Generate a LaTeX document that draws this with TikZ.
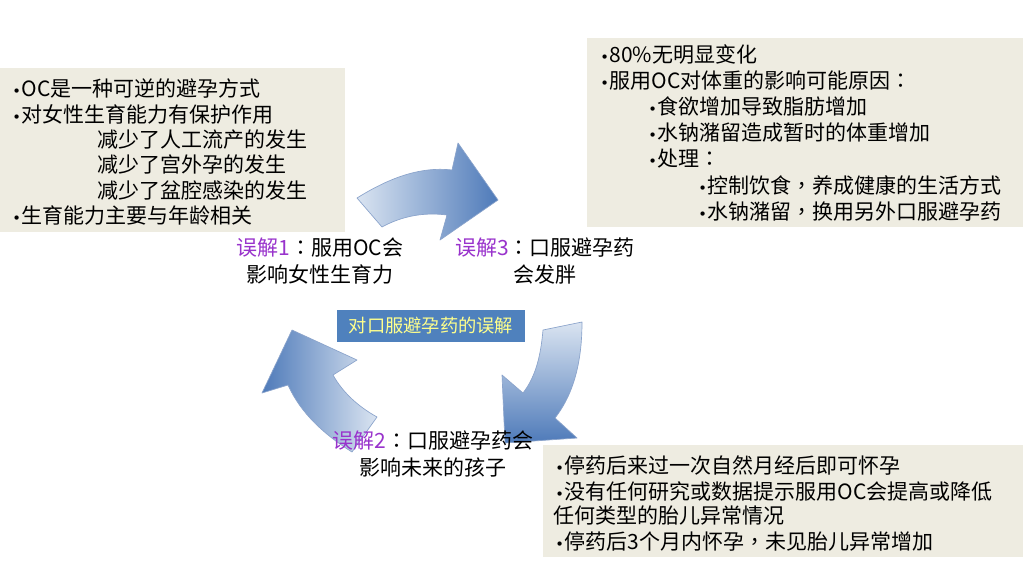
\documentclass[tikz,border=0pt]{standalone}
\usepackage{fontspec}
\setmainfont{Noto Sans CJK SC}
\newfontfamily\bulfont{DejaVu Sans}
\newfontfamily\tcfont{Noto Sans CJK TC}
\definecolor{boxbg}{HTML}{EEECE1}
\definecolor{misc}{HTML}{9933CC}
\definecolor{titlebg}{HTML}{4F81BD}
\definecolor{titletext}{HTML}{FFFF8C}
\definecolor{arlight}{HTML}{DAE4F1}
\definecolor{ardark}{HTML}{4E7AB9}
\definecolor{arline}{HTML}{8AA3CB}
\newcommand\mybul{\makebox[7pt][l]{\bulfont\fontsize{11}{11}\selectfont •}}
\newcommand\cm{{\tcfont ，}}
\newcommand\cl{{\tcfont ：}}
\tikzset{
  txt/.style={anchor=base west, inner sep=0pt, font=\fontsize{15.75}{19}\selectfont},
  lbl/.style={align=center, inner sep=0pt, font=\fontsize{15.75}{20.25}\selectfont},
  infobox/.style={fill=boxbg, draw=none},
  cyclearrow/.style={draw=arline, line width=0.5pt, line join=round},
}
\begin{document}
\begin{tikzpicture}[x=0.75pt, y=-0.75pt]
\useasboundingbox (0,0) rectangle (1023,575);
\fill[white] (0,0) rectangle (1023,575);

% info boxes
\fill[infobox] (0,68) rectangle (345,232);
\fill[infobox] (587,38) rectangle (1023,227);
\fill[infobox] (543,445) rectangle (1023,557);

% left box text
\node[txt] (l1) at (12,96.5) {\mybul OC是一种可逆的避孕方式};
\node[txt] (l2) at (12,122) {\mybul 对女性生育能力有保护作用};
\node[txt] (l3) at (97,147.5) {减少了人工流产的发生};
\node[txt] (l4) at (97,172.5) {减少了宫外孕的发生};
\node[txt] (l5) at (97,198) {减少了盆腔感染的发生};
\node[txt] (l6) at (12,223) {\mybul 生育能力主要与年龄相关};

% top-right box text
\node[txt] (t1) at (600,62.5) {\mybul 80\%无明显变化};
\node[txt] (t2) at (600,88.6) {\mybul 服用OC对体重的影响可能原因\cl};
\node[txt] (t3) at (648,114.7) {\mybul 食欲增加导致脂肪增加};
\node[txt] (t4) at (648,140.8) {\mybul 水钠潴留造成暂时的体重增加};
\node[txt] (t5) at (648,166.9) {\mybul 处理\cl};
\node[txt] (t6) at (698,193) {\mybul 控制饮食\cm 养成健康的生活方式};
\node[txt] (t7) at (698,219.1) {\mybul 水钠潴留\cm 换用另外口服避孕药};

% bottom-right box text
\node[txt] (b1) at (555,473) {\mybul 停药后来过一次自然月经后即可怀孕};
\node[txt] (b2) at (555,499) {\mybul 没有任何研究或数据提示服用OC会提高或降低};
\node[txt] (b3) at (553,523) {任何类型的胎儿异常情况};
\node[txt] (b4) at (555,549) {\mybul 停药后3个月内怀孕\cm 未见胎儿异常增加};

% cycle arrows
\path[cyclearrow, left color=arlight, right color=ardark]
  (357,198) .. controls (386,180) and (418,166) .. (452,170)
  -- (458,143) -- (498,200) -- (440,240) -- (447,215)
  .. controls (424,212) and (402,216) .. (382,227) -- cycle;
\path[cyclearrow, top color=arlight, bottom color=ardark]
  (543,330) -- (582,322) .. controls (582,356) and (576,391) .. (555,418)
  -- (577,438) -- (505,443) -- (502,375) -- (523,393)
  .. controls (537,375) and (541,352) .. (543,330) -- cycle;
\path[cyclearrow, left color=ardark, right color=arlight]
  (352,452) -- (377,417) .. controls (359,407) and (343,393) .. (333,375)
  -- (357,360) -- (292,330) -- (262,393) -- (288,385)
  .. controls (301,414) and (325,435) .. (352,452) -- cycle;

% title
\node[fill=titlebg, minimum width=141pt, minimum height=24pt, inner sep=0pt,
      text=titletext, font=\fontsize{13.7}{16}\selectfont] (title) at (431,326) {对口服避孕药的误解};

% labels
\node[lbl] (m1) at (320,261.5) {{\color{misc}误解1}\cl 服用OC会\\影响女性生育力};
\node[lbl] (m3) at (545,261.5) {{\color{misc}误解3}\cl 口服避孕药\\会发胖};
\node[lbl] (m2) at (433,453.5) {{\color{misc}误解2}\cl 口服避孕药会\\影响未来的孩子};
\end{tikzpicture}
\end{document}
